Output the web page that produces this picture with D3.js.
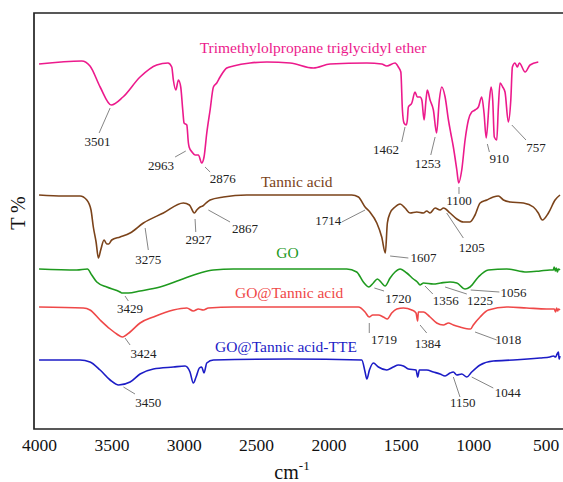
<!DOCTYPE html>
<html>
<head>
<meta charset="utf-8">
<script src="https://cdn.jsdelivr.net/npm/d3@7"></script>
<style>
  html, body { margin: 0; padding: 0; background: #fff; }
  svg { display: block; font-family: "Liberation Serif", "Times New Roman", serif; }
</style>
</head>
<body>
<svg id="chart" width="563" height="482"></svg>
<script>
// FTIR spectra, stacked with offsets (wavenumber in cm-1, transmittance in offset units)
const xTicks = [4000, 3500, 3000, 2500, 2000, 1500, 1000, 500];

const tteSpectrum = [
  [4000,365],[3705,368],[3648,363],[3578,342],[3501,324],[3420,332],[3302,352],[3187,364],
  [3109,366],[3083,362],[3072,349],[3055,339],[3037,349],[3021,342],[3007,319],[2998,306],
  [2979,304],[2968,286],[2963,282],[2943,277],[2922,274],[2899,274],[2876,266],[2860,272],
  [2841,296],[2818,319],[2795,342],[2772,346],[2749,352],[2703,361],[2657,363],[2542,366],
  [2426,367],[2265,366],[2104,361],[1989,365],[1735,366],[1632,365],[1597,363],[1540,366],
  [1517,362],[1500,357],[1489,319],[1478,306],[1462,304],[1455,309],[1448,322],[1424,326],
  [1402,337],[1386,332],[1367,332],[1355,329],[1339,309],[1326,329],[1317,339],[1298,329],
  [1275,319],[1253,296],[1234,329],[1217,342],[1194,332],[1171,309],[1155,296],[1137,282],
  [1113,259],[1100,246],[1079,259],[1056,289],[1033,309],[1010,317],[987,319],[964,322],
  [941,332],[925,316],[910,291],[888,329],[876,342],[865,329],[854,292],[837,289],[826,322],
  [814,346],[796,342],[780,337],[757,307],[740,329],[729,362],[711,366],[695,362],[681,366],
  [641,357],[607,364],[550,367]
];

const tannicSpectrum = [
  [4000,234],[3832,233],[3717,233],[3670,229],[3641,219],[3625,202],[3606,187],[3590,171],
  [3574,179],[3551,189],[3532,185],[3518,185],[3498,189],[3440,192],[3371,196],[3279,206],
  [3141,216],[3003,226],[2961,224],[2927,216],[2910,219],[2887,222],[2869,223],[2846,226],
  [2818,229],[2726,232],[2565,234],[2196,234],[1839,234],[1793,232],[1747,222],[1714,217],
  [1666,206],[1632,192],[1607,176],[1593,206],[1574,216],[1540,222],[1505,225],[1471,221],
  [1436,216],[1390,217],[1344,216],[1321,218],[1298,216],[1263,221],[1229,219],[1205,221],
  [1160,216],[1113,210],[1068,207],[1022,207],[987,214],[952,226],[906,229],[861,232],
  [826,233],[791,229],[745,227],[653,226],[584,222],[550,216],[522,209],[480,216],[434,229],
  [400,234]
];

const goSpectrum = [
  [4000,160],[3739,159],[3666,160],[3636,154],[3601,147],[3532,142],[3440,137],[3429,136],
  [3383,136],[3302,138],[3164,142],[3026,149],[2887,156],[2795,159],[2657,160],[2265,160],
  [1874,160],[1805,157],[1759,147],[1720,142],[1690,146],[1662,150],[1632,146],[1609,143],
  [1574,151],[1540,157],[1505,160],[1459,156],[1413,150],[1386,147],[1367,144],[1356,145],
  [1344,146],[1275,145],[1225,146],[1160,147],[1113,146],[1056,140],[1022,142],[964,152],
  [895,159],[768,160],[630,157],[538,158],[470,159],[446,159],[440,162],[432,158],[425,161],
  [418,157],[411,160],[400,159]
];

const goTannicSpectrum = [
  [4000,122],[3694,121],[3648,119],[3578,109],[3509,100],[3463,95],[3424,92],[3371,97],
  [3302,106],[3210,112],[3072,119],[2979,121],[2934,118],[2899,120],[2865,119],[2830,121],
  [2657,122],[2265,122],[1793,122],[1747,117],[1719,112],[1694,114],[1655,114],[1621,112],
  [1593,110],[1563,116],[1528,120],[1482,121],[1424,119],[1395,116],[1384,108],[1379,117],
  [1344,117],[1298,112],[1252,106],[1206,104],[1171,106],[1137,104],[1091,102],[1018,100],
  [999,104],[952,112],[895,119],[768,122],[630,121],[492,120],[440,120],[430,117],[424,121],
  [416,118],[411,120],[400,119]
];

const goTannicTteSpectrum = [
  [4000,69],[3717,69],[3648,67],[3578,59],[3509,49],[3450,44],[3371,47],[3302,55],[3210,60],
  [3072,62],[2991,63],[2957,57],[2934,46],[2915,52],[2892,61],[2876,62],[2860,56],[2841,66],
  [2795,69],[2265,70],[1770,69],[1747,57],[1735,50],[1717,59],[1690,66],[1655,62],[1597,59],
  [1552,62],[1517,64],[1482,63],[1448,60],[1395,59],[1383,52],[1372,59],[1321,59],[1275,57],
  [1229,55],[1194,53],[1160,56],[1137,57],[1113,54],[1079,55],[1044,52],[1010,57],[952,64],
  [861,68],[722,69],[538,71],[470,72],[446,73],[430,72],[420,75],[411,77],[406,70],[400,73]
];

const seriesNames = [
  "Trimethylolpropane triglycidyl ether",
  "Tannic acid",
  "GO",
  "GO@Tannic acid",
  "GO@Tannic acid-TTE"
];
const seriesColors = ["#ec1a8c", "#7b431a", "#1f9a1f", "#ef4848", "#1c1cc6"];
const seriesData = [tteSpectrum, tannicSpectrum, goSpectrum, goTannicSpectrum, goTannicTteSpectrum];

// series title anchors (wavenumber, value) — text centred, baseline at value
const titleAnchors = [[2107,376],[2219,242],[2283,171],[2272,131],[2294,77]];

// peak annotations: label, leader start [wn, v], leader end [wn, v], text anchor [wn, v]
const peakLabels = [
  ["3501",[3509,321],[3585,296],[3597,283]],
  ["2963",[2986,278],[3060,272],[3157,259]],
  ["2876",[2853,262],[2818,257],[2731,246]],
  ["1462",[1471,302],[1494,287],[1602,275]],
  ["1253",[1263,292],[1293,274],[1314,261]],
  ["1100",[1098,242],[1098,235],[1098,224]],
  ["910",[902,285],[888,277],[819,266]],
  ["757",[733,304],[635,289],[566,277]],
  ["3275",[3267,201],[3245,179],[3245,165]],
  ["2927",[2922,210],[2917,197],[2899,185]],
  ["2867",[2830,219],[2680,207],[2576,196]],
  ["1714",[1747,219],[1908,207],[2001,204]],
  ["1607",[1574,173],[1448,171],[1344,167]],
  ["1205",[1183,216],[1068,191],[1010,177]],
  ["3429",[3406,133],[3383,128],[3371,116]],
  ["1720",[1683,141],[1616,138],[1517,126]],
  ["1356",[1333,143],[1279,135],[1190,124]],
  ["1225",[1194,142],[1044,135],[952,124]],
  ["1056",[1017,139],[819,137],[722,132]],
  ["3424",[3406,91],[3371,84],[3279,71]],
  ["1719",[1718,106],[1718,96],[1616,85]],
  ["1384",[1367,104],[1321,96],[1314,81]],
  ["1018",[987,97],[837,89],[757,85]],
  ["3450",[3417,42],[3337,35],[3245,22]],
  ["1150",[1137,52],[1091,32],[1072,22]],
  ["1044",[1010,52],[861,41],[761,32]]
];

const W = 563, H = 482;
const plot = { left: 34, top: 13, bottom: 429 };

const svg = d3.select("#chart");

const x = d3.scaleLinear().domain([4035, 400]).range([plot.left, 560]);
const y = d3.scaleLinear().domain([0, 416]).range([plot.bottom, plot.top]);

// frame (open to the right edge)
svg.append("path")
  .attr("d", `M${W + 5},${plot.top}H${plot.left}V${plot.bottom}H${W + 5}`)
  .attr("fill", "none")
  .attr("stroke", "#222")
  .attr("stroke-width", 1.7);

// x axis labels
const xAxis = d3.axisBottom(x).tickValues(xTicks).tickSize(0).tickPadding(10).tickFormat(d3.format("d"));
const gx = svg.append("g").attr("transform", `translate(0,${plot.bottom})`).call(xAxis);
gx.select(".domain").remove();
gx.selectAll("text")
  .attr("font-family", "Liberation Serif, Times New Roman, serif")
  .attr("font-size", 17.5)
  .attr("fill", "#111");

// axis titles
const xt = svg.append("text")
  .attr("x", 292).attr("y", 479)
  .attr("text-anchor", "middle")
  .attr("font-size", 20)
  .attr("fill", "#111");
xt.append("tspan").text("cm");
xt.append("tspan").attr("font-size", 13).attr("dy", -9).text("-1");

svg.append("text")
  .attr("transform", "translate(25,213) rotate(-90)")
  .attr("text-anchor", "middle")
  .attr("font-size", 20)
  .attr("fill", "#111")
  .text("T %");

// spectra
const line = d3.line().x(d => x(d[0])).y(d => y(d[1])).curve(d3.curveMonotoneX);
seriesData.forEach((data, i) => {
  const sorted = data.slice().sort((a, b) => b[0] - a[0]);
  svg.append("path")
    .datum(sorted)
    .attr("d", line)
    .attr("fill", "none")
    .attr("stroke", seriesColors[i])
    .attr("stroke-width", 1.6)
    .attr("stroke-linejoin", "round");
  svg.append("text")
    .attr("x", x(titleAnchors[i][0]))
    .attr("y", y(titleAnchors[i][1]))
    .attr("text-anchor", "middle")
    .attr("font-size", 15.5)
    .attr("fill", seriesColors[i])
    .text(seriesNames[i]);
});

// peak annotations
const ann = svg.append("g");
peakLabels.forEach(([label, a, b, t]) => {
  ann.append("line")
    .attr("x1", x(a[0])).attr("y1", y(a[1]))
    .attr("x2", x(b[0])).attr("y2", y(b[1]))
    .attr("stroke", "#777")
    .attr("stroke-width", 0.9);
  ann.append("text")
    .attr("x", x(t[0])).attr("y", y(t[1]))
    .attr("text-anchor", "middle")
    .attr("font-size", 13)
    .attr("fill", "#222")
    .text(label);
});
</script>
</body>
</html>
